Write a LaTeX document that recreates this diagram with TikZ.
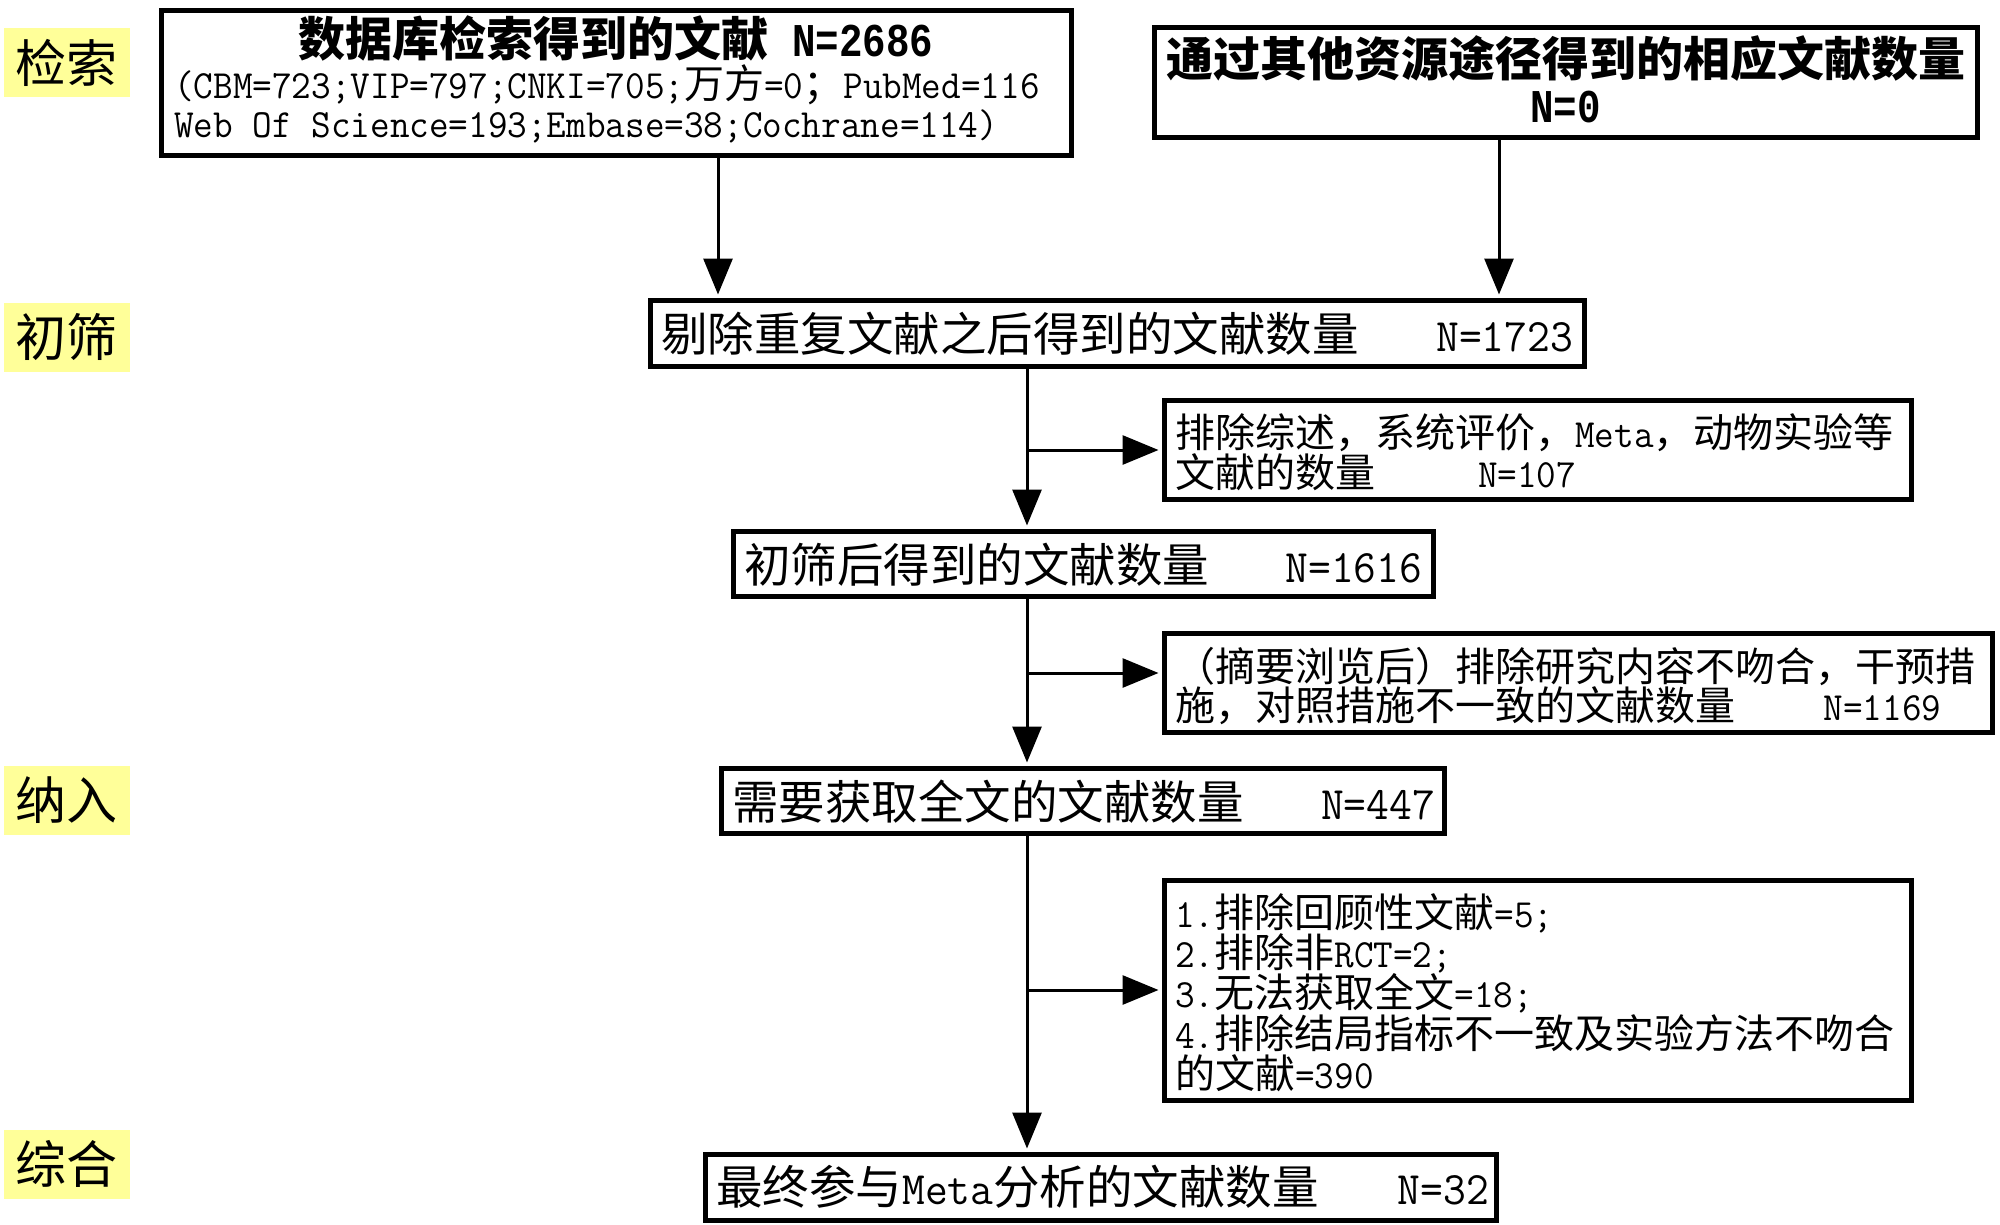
\documentclass[tikz,border=0pt]{standalone}
\usepackage{fontspec}
\setmainfont{Noto Sans CJK SC}
\newfontfamily\latf[FakeStretch=0.9524]{Latin Modern Mono}
\newfontfamily\latbf[FakeStretch=0.8333]{Liberation Mono}
\newcommand\lat[1]{{\latf #1}}
\newcommand\latb[1]{{\latbf #1}}
\usetikzlibrary{arrows.meta}
\definecolor{labyellow}{RGB}{255,255,153}
\tikzset{
  box/.style={draw, line width=5pt, inner sep=0pt},
  txt/.style={inner sep=0pt, anchor=base west, font=\fontsize{40pt}{40pt}\selectfont},
  big/.style={inner sep=0pt, anchor=base west, font=\fontsize{46.5pt}{46.5pt}\selectfont},
  title/.style={inner sep=0pt, anchor=base, font=\fontsize{47pt}{47pt}\selectfont\bfseries},
  lab/.style={fill=labyellow, inner sep=0pt, minimum width=126pt, minimum height=69pt, font=\fontsize{51pt}{51pt}\selectfont},
  arr/.style={line width=3pt, -{Triangle[length=36pt,width=29pt]}, shorten >=3pt}
}
\begin{document}
\begin{tikzpicture}[x=1pt,y=-1pt]
\fill[white] (0,0) rectangle (2000,1224);
\path[use as bounding box] (0,0) rectangle (2000,1224);

% boxes
\node[box, minimum width=910pt, minimum height=145pt] (db) at (616,82.5) {};
\node[box, minimum width=823pt, minimum height=110pt] (other) at (1565.5,82) {};
\node[box, minimum width=934pt, minimum height=66pt] (dedup) at (1117,333) {};
\node[box, minimum width=747pt, minimum height=99pt] (ex1) at (1537.5,449.5) {};
\node[box, minimum width=700pt, minimum height=65pt] (screen) at (1083,563.5) {};
\node[box, minimum width=828pt, minimum height=99pt] (ex2) at (1578,682.5) {};
\node[box, minimum width=723pt, minimum height=65pt] (full) at (1082.5,800.5) {};
\node[box, minimum width=747pt, minimum height=220pt] (ex3) at (1537.5,990) {};
\node[box, minimum width=791pt, minimum height=66pt] (final) at (1100.5,1187) {};

% texts
\node[title] (db-t1) at (616,56) {数据库检索得到的文献\latb{ N=2686}};
\node[txt] (db-t2) at (174,98) {\lat{(CBM=723;VIP=797;CNKI=705;}万方\lat{=0}；\lat{PubMed=116}};
\node[txt] (db-t3) at (174,137) {\lat{Web Of Science=193;Embase=38;Cochrane=114)}};
\node[title] (other-t1) at (1565.5,76) {通过其他资源途径得到的相应文献数量};
\node[title] (other-t2) at (1565.5,122) {\latb{N=0}};
\node[big] (dedup-t) at (661,351) {\makebox[912pt][l]{剔除重复文献之后得到的文献数量\hfill\lat{N=1723}}};
\node[txt] (ex1-t1) at (1175,447) {排除综述，系统评价，\lat{Meta}，动物实验等};
\node[txt] (ex1-t2) at (1175,487) {\makebox[401pt][l]{文献的数量\hfill\lat{N=107}}};
\node[big] (screen-t) at (744,582) {\makebox[678pt][l]{初筛后得到的文献数量\hfill\lat{N=1616}}};
\node[txt] (ex2-t1) at (1175,681) {（摘要浏览后）排除研究内容不吻合，干预措};
\node[txt] (ex2-t2) at (1175,720) {\makebox[766pt][l]{施，对照措施不一致的文献数量\hfill\lat{N=1169}}};
\node[big] (full-t) at (732,819) {\makebox[703pt][l]{需要获取全文的文献数量\hfill\lat{N=447}}};
\node[txt] (ex3-t1) at (1175,927) {\lat{1.}排除回顾性文献\lat{=5;}};
\node[txt] (ex3-t2) at (1175,967) {\lat{2.}排除非\lat{RCT=2;}};
\node[txt] (ex3-t3) at (1175,1007) {\lat{3.}无法获取全文\lat{=18;}};
\node[txt] (ex3-t4) at (1175,1048) {\lat{4.}排除结局指标不一致及实验方法不吻合};
\node[txt] (ex3-t5) at (1175,1088) {的文献\lat{=390}};
\node[big] (final-t) at (716,1204) {\makebox[773pt][l]{最终参与\lat{Meta}分析的文献数量\hfill\lat{N=32}}};

% stage labels
\node[lab] (l1) at (67,62.5) {检索};
\node[lab] (l2) at (67,337) {初筛};
\node[lab] (l3) at (67,800) {纳入};
\node[lab] (l4) at (67,1164) {综合};

% connectors
\coordinate (a1) at (718,0);
\coordinate (a2) at (1499,0);
\coordinate (sp) at (1027,0);
\coordinate (b1) at (1027,450);
\coordinate (b2) at (1027,673);
\coordinate (b3) at (1027,990);
\draw[arr] (db.south -| a1) -- (dedup.north -| a1);
\draw[arr] (other.south -| a2) -- (dedup.north -| a2);
\draw[arr] (dedup.south -| sp) -- (screen.north -| sp);
\draw[arr] (screen.south -| sp) -- (full.north -| sp);
\draw[arr] (full.south -| sp) -- (final.north -| sp);
\draw[arr] (b1) -- (b1 -| ex1.west);
\draw[arr] (b2) -- (b2 -| ex2.west);
\draw[arr] (b3) -- (b3 -| ex3.west);
\end{tikzpicture}
\end{document}
